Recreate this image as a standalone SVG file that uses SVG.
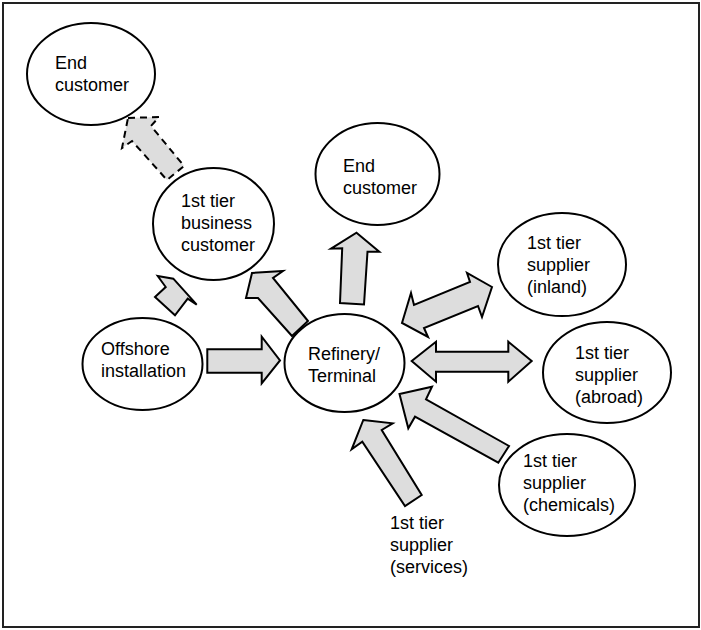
<svg xmlns="http://www.w3.org/2000/svg" width="701" height="630" viewBox="0 0 701 630">
  <style>
    .frame { fill: #ffffff; stroke: #222222; stroke-width: 2; }
    .node { fill: #ffffff; stroke: #000000; stroke-width: 2; }
    .arrow { fill: #dddddd; stroke: #000000; stroke-width: 2; stroke-linejoin: miter; }
    .dashed { stroke-dasharray: 7 5; }
    .label { font-family: "Liberation Sans", Arial, sans-serif; font-size: 18px; fill: #000000; }
  </style>

  <rect class="frame" x="3" y="3" width="696" height="624"/>

  <!-- block arrows between the parties -->
  <g id="connectors">
    <!-- business customer to end customer (dashed) -->
    <polygon class="arrow dashed" points="128,118 159,117 151,126 184,166 167,180 132,141 122,148"/>
    <!-- offshore installation to business customer -->
    <polygon class="arrow" points="157.7,276 173.3,278.7 196.7,304.7 187.7,298.7 175,315.3 155,297 165.7,287"/>
    <!-- refinery to business customer -->
    <polygon class="arrow" points="252,273 283,271 273,278 308,321 292,336 258,298 246,298"/>
    <!-- refinery to end customer -->
    <polygon class="arrow" points="356.5,232.7 379.3,251.7 367.5,251.7 364,304.5 340,303 342.2,248.3 331,248.7"/>
    <!-- offshore installation to refinery -->
    <polygon class="arrow" points="207.3,349.3 261.7,349.3 261.7,336.7 280,360.5 261.7,383.3 261.7,372.7 207.3,372.7"/>
    <!-- refinery and inland supplier -->
    <polygon class="arrow" points="492,287 467,273 470,282 414,305 411,293 402,323 428,337 424,328 478,306 482,317"/>
    <!-- refinery and abroad supplier -->
    <polygon class="arrow" points="411.7,361 436,341.7 436,351.7 508.3,351.7 508.3,341.7 531.7,361 508.3,381.7 508.3,371.7 436,371.7 436,381.7"/>
    <!-- chemicals supplier to refinery -->
    <polygon class="arrow" points="399.5,394 432,386.7 426,399.3 509,446 498.3,462.7 415,416.7 408.3,428.3"/>
    <!-- services supplier to refinery -->
    <polygon class="arrow" points="363.3,420 392.7,423.3 381.7,430 421.7,495 405,506 362.3,441.7 351.7,449.3"/>
  </g>

  <g id="end-customer-1">
    <ellipse class="node" cx="91" cy="74" rx="64" ry="51"/>
    <text class="label" x="55" y="69">End</text>
    <text class="label" x="55" y="91">customer</text>
  </g>

  <g id="business-customer">
    <ellipse class="node" cx="213.5" cy="224" rx="60.5" ry="56"/>
    <text class="label" x="181" y="207">1st tier</text>
    <text class="label" x="181" y="229">business</text>
    <text class="label" x="181" y="251">customer</text>
  </g>

  <g id="end-customer-2">
    <ellipse class="node" cx="377.5" cy="174" rx="62" ry="51"/>
    <text class="label" x="343" y="172">End</text>
    <text class="label" x="343" y="194">customer</text>
  </g>

  <g id="offshore">
    <ellipse class="node" cx="142.5" cy="364" rx="60" ry="46"/>
    <text class="label" x="101" y="355">Offshore</text>
    <text class="label" x="101" y="377">installation</text>
  </g>

  <g id="refinery">
    <ellipse class="node" cx="344.5" cy="363" rx="60" ry="49"/>
    <text class="label" x="308" y="360">Refinery/</text>
    <text class="label" x="308" y="382">Terminal</text>
  </g>

  <g id="supplier-inland">
    <ellipse class="node" cx="562" cy="264.5" rx="64" ry="51.5"/>
    <text class="label" x="527" y="249">1st tier</text>
    <text class="label" x="527" y="271">supplier</text>
    <text class="label" x="527" y="293">(inland)</text>
  </g>

  <g id="supplier-abroad">
    <ellipse class="node" cx="607" cy="372.5" rx="64" ry="50.5"/>
    <text class="label" x="575" y="359">1st tier</text>
    <text class="label" x="575" y="381">supplier</text>
    <text class="label" x="575" y="403">(abroad)</text>
  </g>

  <g id="supplier-chemicals">
    <ellipse class="node" cx="567" cy="485" rx="68" ry="51"/>
    <text class="label" x="523" y="467">1st tier</text>
    <text class="label" x="523" y="489">supplier</text>
    <text class="label" x="523" y="511">(chemicals)</text>
  </g>

  <g id="supplier-services">
    <text class="label" x="390" y="529">1st tier</text>
    <text class="label" x="390" y="551">supplier</text>
    <text class="label" x="390" y="573">(services)</text>
  </g>
</svg>
